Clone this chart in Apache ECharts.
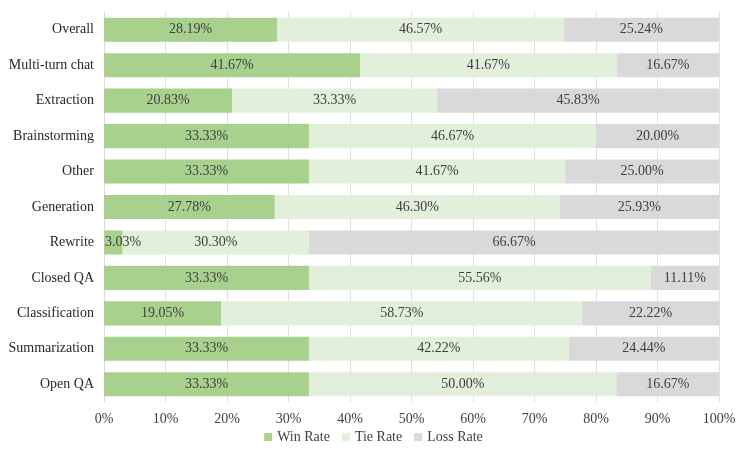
<!DOCTYPE html>
<html>
<head>
<meta charset="utf-8">
<script src="https://cdn.jsdelivr.net/npm/echarts@6/dist/echarts.min.js"></script>
<style>
  html, body { margin: 0; padding: 0; background: #fff; }
  #chart { width: 747px; height: 459px; }
</style>
</head>
<body>
<div id="chart"></div>
<script>
// categories listed top to bottom
var categories = ['Overall', 'Multi-turn chat', 'Extraction', 'Brainstorming', 'Other', 'Generation',
  'Rewrite', 'Closed QA', 'Classification', 'Summarization', 'Open QA'];
var winRate = [28.19, 41.67, 20.83, 33.33, 33.33, 27.78, 3.03, 33.33, 19.05, 33.33, 33.33];
var tieRate = [46.57, 41.67, 33.33, 46.67, 41.67, 46.30, 30.30, 55.56, 58.73, 42.22, 50.00];
var lossRate = [25.24, 16.67, 45.83, 20.00, 25.00, 25.93, 66.67, 11.11, 22.22, 24.44, 16.67];
var seriesNames = ['Win Rate', 'Tie Rate', 'Loss Rate'];
var colors = ['#A9D18E', '#E2EFDA', '#D9D9D9'];

var font = '"Liberation Serif", "Times New Roman", serif';
var chart = echarts.init(document.getElementById('chart'));

function makeSeries(name, values, color) {
  return {
    name: name,
    type: 'bar',
    stack: 'total',
    // very thin segments: start the label at the bar's left edge
    data: values.map(function (v) {
      return v < 5 ? { value: v, label: { position: 'insideLeft', distance: 1 } } : v;
    }),
    barCategoryGap: '32%',
    itemStyle: { color: color },
    label: {
      show: true,
      position: 'inside',
      color: '#404040',
      fontFamily: font,
      fontSize: 14,
      formatter: function (p) { return p.value.toFixed(2) + '%'; }
    }
  };
}

var option = {
  animation: false,
  grid: { left: 104, right: 28, top: 12, bottom: 57 },
  legend: {
    bottom: 10,
    itemWidth: 8,
    itemHeight: 8,
    itemGap: 12,
    icon: 'rect',
    textStyle: { fontFamily: font, fontSize: 14, color: '#404040' },
    data: seriesNames
  },
  xAxis: {
    type: 'value',
    min: 0,
    max: 100,
    interval: 10,
    axisLine: { show: false },
    axisTick: { show: false },
    splitLine: { lineStyle: { color: '#E0E0E0' } },
    axisLabel: {
      formatter: '{value}%',
      fontFamily: font,
      fontSize: 14,
      color: '#404040',
      margin: 10
    }
  },
  yAxis: {
    type: 'category',
    inverse: true,
    data: categories,
    axisLine: { lineStyle: { color: '#D9D9D9' } },
    axisTick: { show: false },
    axisLabel: {
      fontFamily: font,
      fontSize: 14,
      color: '#262626',
      margin: 10
    }
  },
  series: [
    makeSeries(seriesNames[0], winRate, colors[0]),
    makeSeries(seriesNames[1], tieRate, colors[1]),
    makeSeries(seriesNames[2], lossRate, colors[2])
  ]
};
chart.setOption(option);
</script>
</body>
</html>
